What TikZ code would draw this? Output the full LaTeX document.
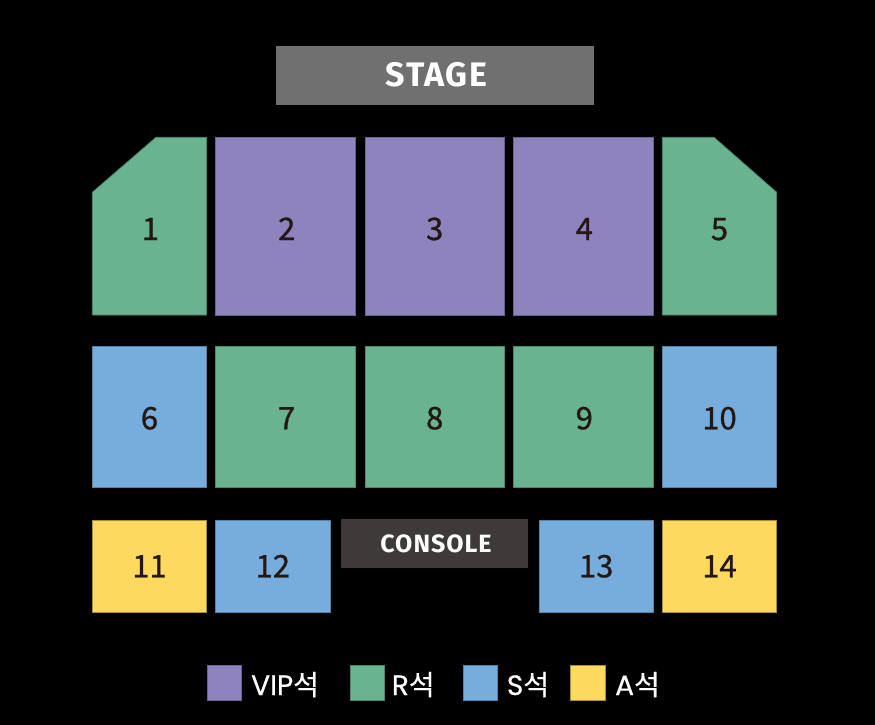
\documentclass[tikz,border=0pt]{standalone}
\usepackage{fontspec}
\newfontfamily\krfont{Noto Sans CJK KR}[FakeBold=0.6]
\newfontfamily\numfont{Noto Sans CJK KR}[FakeBold=0.9]
\newfontfamily\labfont{Fira Sans}
\newfontfamily\stagefont{Fira Sans}[LetterSpace=5]
\newfontfamily\consfont{Fira Sans}[LetterSpace=4]
\newfontfamily\legfont{Poppins}[FakeBold=0.6]
\definecolor{vip}{RGB}{143,131,189}
\definecolor{rr}{RGB}{106,179,145}
\definecolor{ss}{RGB}{118,173,221}
\definecolor{aa}{RGB}{253,218,94}
\definecolor{stagegray}{RGB}{113,112,112}
\definecolor{consolegray}{RGB}{62,58,57}
\definecolor{numtext}{RGB}{35,24,21}
\tikzset{
  seatvip/.style={fill=vip, draw=vip!75!black, line width=0.7pt},
  seatr/.style={fill=rr, draw=rr!75!black, line width=0.7pt},
  seats/.style={fill=ss, draw=ss!75!black, line width=0.7pt},
  seata/.style={fill=aa, draw=aa!65!black, line width=0.7pt},
  num/.style={anchor=base, inner sep=0pt, text=numtext, font=\numfont\fontsize{31}{31}\selectfont},
  legtext/.style={anchor=base west, inner sep=0pt, text=white, font=\legfont\fontsize{28}{28}\selectfont},
}
\begin{document}
\begin{tikzpicture}[x=1pt,y=-1pt]
\fill[black] (0,0) rectangle (875,725);
\useasboundingbox (0,0) rectangle (875,725);
% stage
\fill[stagegray] (275.7,46) rectangle (593.7,105);
\node[anchor=base, inner sep=0pt, text=white, font=\stagefont\bfseries\fontsize{34}{34}\selectfont] (stage) at (436.5,86.7) {STAGE};
% row 1
\path[seatr] (92.3,192.3) -- (156,137.3) -- (206.7,137.3) -- (206.7,315) -- (92.3,315) -- cycle;
\path[seatvip] (215.7,137.3) rectangle (355.7,315);
\path[seatvip] (365,137.3) rectangle (504.5,315);
\path[seatvip] (513.3,137.3) rectangle (653.3,315);
\path[seatr] (662.3,137.3) -- (714,137.3) -- (776.7,192.3) -- (776.7,315) -- (662.3,315) -- cycle;
\node[num] (n1) at (150.5,240) {1};
\node[num] (n2) at (286.7,240) {2};
\node[num] (n3) at (434.7,240) {3};
\node[num] (n4) at (584.3,240) {4};
\node[num] (n5) at (719.5,240) {5};
% row 2
\path[seats] (92.3,346) rectangle (206.7,487.3);
\path[seatr] (215.7,346) rectangle (355.7,487.3);
\path[seatr] (365,346) rectangle (504.5,487.3);
\path[seatr] (513.3,346) rectangle (653.3,487.3);
\path[seats] (662.3,346) rectangle (776.7,487.3);
\node[num] (n6) at (149.5,429.3) {6};
\node[num] (n7) at (286.7,429.3) {7};
\node[num] (n8) at (434.7,429.3) {8};
\node[num] (n9) at (584.3,429.3) {9};
\node[num] (n10) at (719.5,429.3) {10};
% row 3
\path[seata] (92.3,520) rectangle (206.7,612.3);
\path[seats] (215.7,520) rectangle (330,612.3);
\fill[consolegray] (341.3,519.3) rectangle (527.7,567.7);
\path[seats] (539,520) rectangle (653.3,612.3);
\path[seata] (662.3,520) rectangle (776.7,612.3);
\node[anchor=base, inner sep=0pt, text=white, font=\consfont\bfseries\fontsize{25}{25}\selectfont] (console) at (436,552) {CONSOLE};
\node[num] (n11) at (149.5,577.3) {11};
\node[num] (n12) at (272.8,577.3) {12};
\node[num] (n13) at (596.2,577.3) {13};
\node[num] (n14) at (719.5,577.3) {14};
% legend
\path[seatvip] (207.3,665) rectangle (241.7,700);
\path[seatr] (350,665) rectangle (384.7,700);
\path[seats] (463.3,665) rectangle (497.3,700);
\path[seata] (570.7,665) rectangle (605,700);
\node[legtext] (lvip) at (251,695) {VIP{\krfont 석}};
\node[legtext] (lr) at (391.7,695) {R{\krfont 석}};
\node[legtext] (ls) at (506.7,695) {S{\krfont 석}};
\node[legtext] (la) at (615,695) {A{\krfont 석}};
\end{tikzpicture}
\end{document}
